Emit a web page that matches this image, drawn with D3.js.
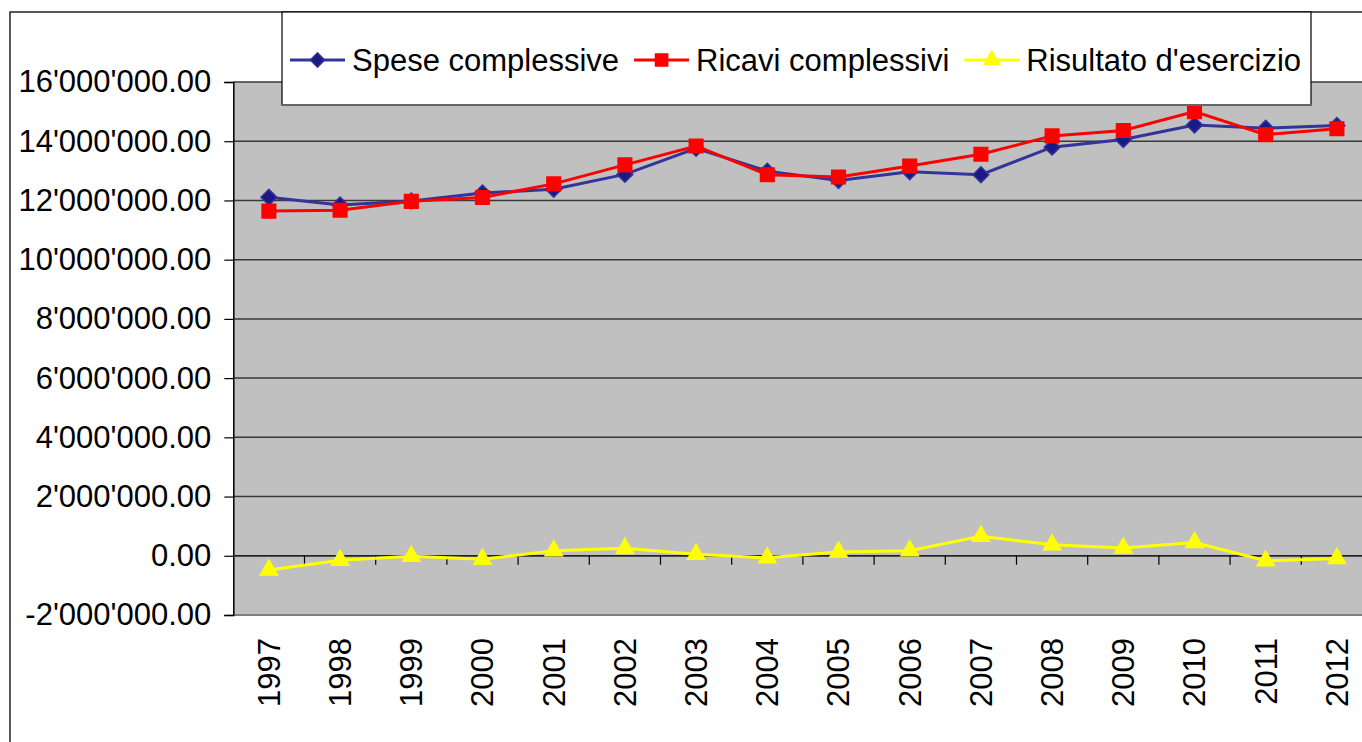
<!DOCTYPE html>
<html><head><meta charset="utf-8">
<script src="https://cdnjs.cloudflare.com/ajax/libs/d3/7.8.5/d3.min.js"></script>
<style>html,body{margin:0;padding:0;background:#fff;overflow:hidden}svg{display:block}text{font-family:"Liberation Sans",Arial,sans-serif}</style>
</head><body>
<script>
const years = ["1997","1998","1999","2000","2001","2002","2003","2004","2005","2006","2007","2008","2009","2010","2011","2012"];
const spese = [12110000,11850000,11980000,12250000,12380000,12880000,13760000,12990000,12670000,12970000,12870000,13800000,14060000,14550000,14440000,14530000];
const ricavi = [11640000,11670000,11970000,12100000,12560000,13200000,13840000,12870000,12790000,13160000,13560000,14180000,14360000,15000000,14220000,14420000];
const risultato = [-480000,-150000,-20000,-120000,170000,250000,50000,-70000,130000,170000,660000,370000,260000,450000,-170000,-90000];
const yTicks = [-2000000,0,2000000,4000000,6000000,8000000,10000000,12000000,14000000,16000000];
const seriesNames = ["Spese complessive","Ricavi complessivi","Risultato d'esercizio"];

const W = 1362, H = 742, FS = 31;
const svg = d3.select("body").append("svg").attr("width", W).attr("height", H);
svg.append("rect").attr("width", W).attr("height", H).attr("fill", "#fff");

// outer chart border
svg.append("rect").attr("x", 10).attr("y", 12).attr("width", W + 20).attr("height", H + 20)
  .attr("fill", "none").attr("stroke", "#000").attr("stroke-width", 1.3);

const plot = {l: 233.3, t: 82, r: 233.3 + 16 * 71.2, b: 615};
const x = d3.scaleBand().domain(years).range([plot.l, plot.r]).padding(0);
const y = d3.scaleLinear().domain([-2000000, 16000000]).range([plot.b, plot.t]);
const cx = d => x(d) + x.bandwidth() / 2;

const loc = d3.formatLocale({decimal: ".", thousands: "'", grouping: [3], currency: ["", ""], minus: "-"});
const fmt = loc.format(",.2f");

// plot area
svg.append("rect").attr("x", plot.l).attr("y", plot.t).attr("width", plot.r - plot.l).attr("height", plot.b - plot.t)
  .attr("fill", "#C0C0C0");
// gridlines
svg.append("g").selectAll("line").data(yTicks.filter(v => v > -2000000)).join("line")
  .attr("x1", plot.l).attr("x2", plot.r).attr("y1", d => y(d)).attr("y2", d => y(d))
  .attr("stroke", "#3a3a3a").attr("stroke-width", 1.5);
// bottom border
svg.append("line").attr("x1", plot.l).attr("x2", plot.r).attr("y1", plot.b).attr("y2", plot.b)
  .attr("stroke", "#808080").attr("stroke-width", 2);

// y axis
const yAxis = svg.append("g").attr("transform", `translate(${plot.l},0)`)
  .call(d3.axisLeft(y).tickValues(yTicks).tickFormat(fmt).tickSize(9).tickPadding(13));
yAxis.select(".domain").attr("stroke", "#000").attr("stroke-width", 1.5);
yAxis.selectAll(".tick line").attr("stroke", "#000").attr("stroke-width", 1.2);
yAxis.selectAll("text").attr("font-size", FS).attr("fill", "#000").attr("font-family", "Liberation Sans, Arial, sans-serif");

// x axis at zero with ticks between categories
const xg = svg.append("g");
xg.append("line").attr("x1", plot.l).attr("x2", plot.r).attr("y1", y(0)).attr("y2", y(0))
  .attr("stroke", "#222").attr("stroke-width", 1.5);
xg.selectAll("line.tk").data(years.slice(1)).join("line").attr("class", "tk")
  .attr("x1", d => x(d)).attr("x2", d => x(d)).attr("y1", y(0)).attr("y2", y(0) + 9)
  .attr("stroke", "#000").attr("stroke-width", 1.2);
xg.selectAll("text").data(years).join("text")
  .attr("transform", d => `translate(${cx(d)},638) rotate(-90)`)
  .attr("text-anchor", "end").attr("dy", "0.35em").attr("font-size", FS).attr("fill", "#000").text(d => d);

// series
const styles = [
  {data: spese, color: "#333399", fill: "#1a1a85", sym: d3.symbolSquare, size: 125, rot: 45},
  {data: ricavi, color: "#FF0000", fill: "#FF0000", sym: d3.symbolSquare, size: 185, rot: 0},
  {data: risultato, color: "#FFFF00", fill: "#FFFF00", sym: d3.symbolTriangle, size: 130, rot: 0}
];
const line = d3.line().x((d, i) => cx(years[i])).y(d => y(d));
styles.forEach(s => {
  const g = svg.append("g");
  g.append("path").datum(s.data).attr("d", line).attr("fill", "none").attr("stroke", s.color).attr("stroke-width", 3);
  g.selectAll("path.m").data(s.data).join("path").attr("class", "m")
    .attr("transform", (d, i) => `translate(${cx(years[i])},${y(d)}) rotate(${s.rot})`)
    .attr("d", d3.symbol(s.sym, s.size)).attr("fill", s.fill).attr("stroke", s.color).attr("stroke-width", 1.5);
});

// legend
const lg = svg.append("g");
lg.append("rect").attr("x", 282).attr("y", 12).attr("width", 1029).attr("height", 93)
  .attr("fill", "#fff").attr("stroke", "#000").attr("stroke-width", 1.2);
lg.append("line").attr("x1", 282).attr("x2", 1312).attr("y1", 105).attr("y2", 105).attr("stroke", "#666").attr("stroke-width", 2);
let lx = 290;
const ly = 60;
seriesNames.forEach((n, i) => {
  const s = styles[i];
  lg.append("line").attr("x1", lx).attr("x2", lx + 55).attr("y1", ly).attr("y2", ly).attr("stroke", s.color).attr("stroke-width", 3);
  lg.append("path").attr("transform", `translate(${lx + 27.5},${ly}) rotate(${s.rot})`).attr("d", d3.symbol(s.sym, s.size * 0.8))
    .attr("fill", s.fill).attr("stroke", s.color).attr("stroke-width", 1.5);
  const t = lg.append("text").attr("x", lx + 62).attr("y", ly).attr("dy", "0.35em").attr("font-size", FS).attr("fill", "#000").text(n);
  lx = lx + 62 + t.node().getComputedTextLength() + 15;
});
</script>
</body></html>
